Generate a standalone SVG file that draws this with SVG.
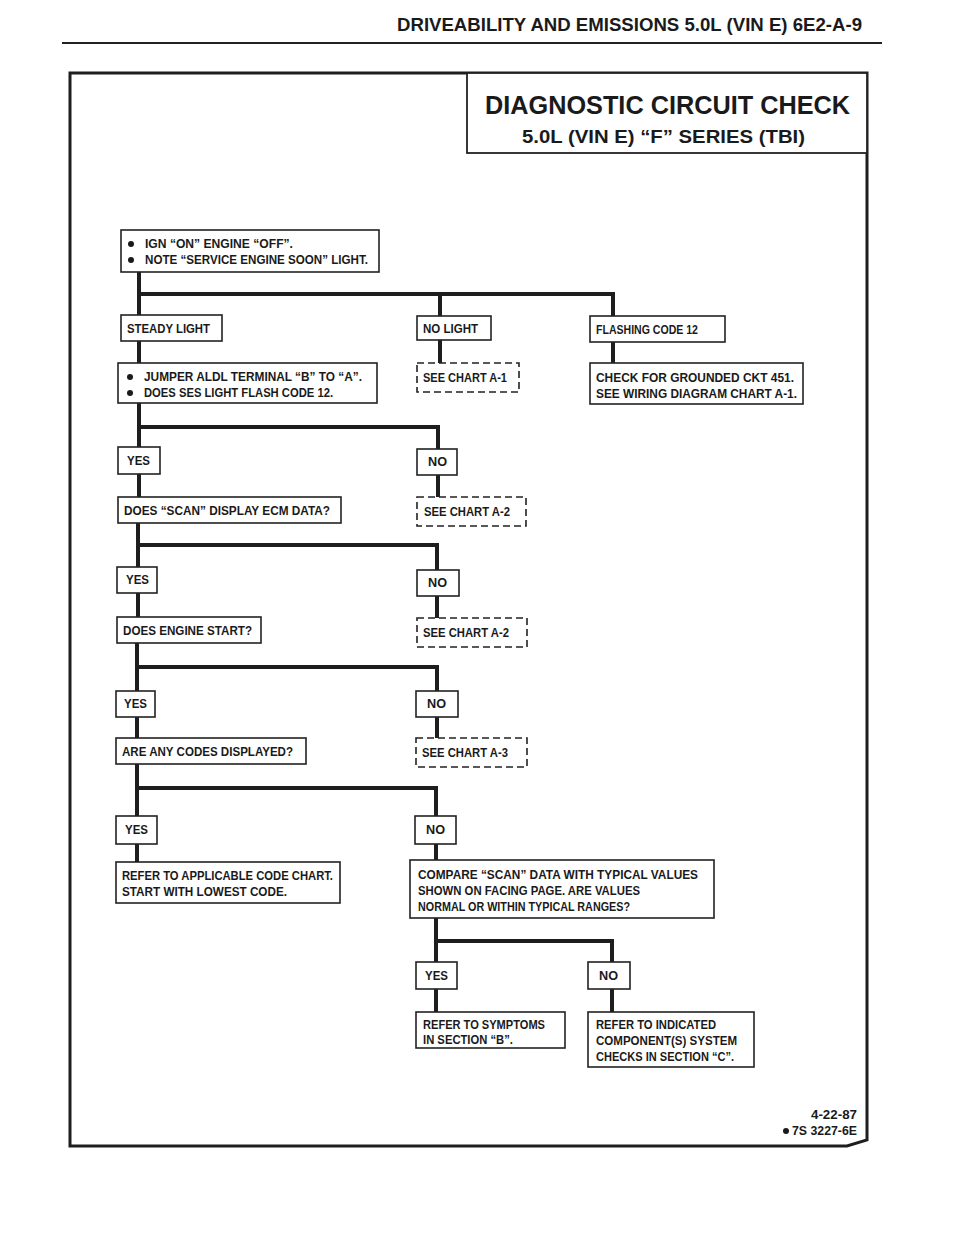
<svg xmlns="http://www.w3.org/2000/svg" width="960" height="1242" viewBox="0 0 960 1242">
<style>
.bx{fill:#fff;stroke:#222;stroke-width:1.6}
.dx{fill:#fff;stroke:#222;stroke-width:1.6;stroke-dasharray:7 4}
.t{font-family:"Liberation Sans",Arial,sans-serif;font-weight:bold;font-size:12.5px;fill:#1a1a1a}
.cn{stroke:#1e1e1e;stroke-width:4;fill:none}
.bul{fill:#1a1a1a}
</style>
<rect width="960" height="1242" fill="#fff"/>
<g id="header">
<text x="397" y="31" class="t" style="font-size:19px" textLength="465" lengthAdjust="spacingAndGlyphs">DRIVEABILITY AND EMISSIONS  5.0L  (VIN E)  6E2-A-9</text>
<line x1="62" y1="43" x2="882" y2="43" stroke="#222" stroke-width="2"/>
</g>
<g id="frame">
<path d="M70,73 H867 V1140 L847,1146 H70 Z" fill="none" stroke="#1e1e1e" stroke-width="3"/>
</g>
<g id="title">
<rect x="467" y="73" width="400" height="80" fill="#fff" stroke="#222" stroke-width="1.8"/>
<text x="485" y="114" class="t" style="font-size:26px" textLength="365" lengthAdjust="spacingAndGlyphs">DIAGNOSTIC CIRCUIT CHECK</text>
<text x="522" y="143" class="t" style="font-size:18px" textLength="283" lengthAdjust="spacingAndGlyphs">5.0L (VIN E)  “F” SERIES  (TBI)</text>
</g>
<g id="connectors">
<path class="cn" d="M139,272 V316 M139,341 V363 M139,403 V447 M139,474 V497 M138,523 V567 M138,593 V617 M137,643 V691 M137,717 V738 M137,764 V816 M137,844 V862"/>
<path class="cn" d="M139,294 H613 V316 M440,294 V316 M440,340 V363 M613,342 V363"/>
<path class="cn" d="M139,427 H438 V449 M438,475 V497"/>
<path class="cn" d="M138,545 H437 V570 M437,596 V618"/>
<path class="cn" d="M137,667 H437 V691 M437,717 V738"/>
<path class="cn" d="M137,788 H436 V816 M436,844 V860 M436,918 V962 M436,941 H612 V962 M436,989 V1012 M612,989 V1012"/>
</g>
<g id="n-ign">
<rect class="bx" x="121" y="230" width="258" height="42"/>
<circle class="bul" cx="131" cy="244" r="3"/><circle class="bul" cx="131" cy="260" r="3"/>
<text class="t" x="145" y="248" textLength="148" lengthAdjust="spacingAndGlyphs">IGN “ON” ENGINE  “OFF”.</text>
<text class="t" x="145" y="264" textLength="223" lengthAdjust="spacingAndGlyphs">NOTE “SERVICE ENGINE SOON” LIGHT.</text>
</g>
<g id="n-steady">
<rect class="bx" x="121" y="315" width="101" height="26"/>
<text class="t" x="127" y="333" textLength="83" lengthAdjust="spacingAndGlyphs">STEADY LIGHT</text>
</g>
<g id="n-nolight">
<rect class="bx" x="417" y="316" width="74" height="24"/>
<text class="t" x="423" y="333" textLength="55" lengthAdjust="spacingAndGlyphs">NO LIGHT</text>
</g>
<g id="n-flash">
<rect class="bx" x="590" y="316" width="135" height="26"/>
<text class="t" x="596" y="334" textLength="102" lengthAdjust="spacingAndGlyphs">FLASHING CODE 12</text>
</g>
<g id="n-a1">
<rect class="dx" x="417" y="363" width="102" height="29"/>
<text class="t" x="423" y="382" textLength="84" lengthAdjust="spacingAndGlyphs">SEE CHART A-1</text>
</g>
<g id="n-check">
<rect class="bx" x="590" y="363" width="213" height="41"/>
<text class="t" x="596" y="382" textLength="198" lengthAdjust="spacingAndGlyphs">CHECK FOR GROUNDED CKT 451.</text>
<text class="t" x="596" y="398" textLength="201" lengthAdjust="spacingAndGlyphs">SEE WIRING DIAGRAM CHART A-1.</text>
</g>
<g id="n-jumper">
<rect class="bx" x="118" y="363" width="259" height="40"/>
<circle class="bul" cx="130" cy="377" r="3"/><circle class="bul" cx="130" cy="393" r="3"/>
<text class="t" x="144" y="381" textLength="218" lengthAdjust="spacingAndGlyphs">JUMPER  ALDL TERMINAL “B” TO “A”.</text>
<text class="t" x="144" y="397" textLength="189" lengthAdjust="spacingAndGlyphs">DOES SES LIGHT FLASH CODE 12.</text>
</g>
<g id="n-yes1">
<rect class="bx" x="118" y="447" width="42" height="27"/>
<text class="t" x="127" y="465" textLength="23" lengthAdjust="spacingAndGlyphs">YES</text>
</g>
<g id="n-no1">
<rect class="bx" x="417" y="449" width="40" height="26"/>
<text class="t" x="428" y="466" textLength="19" lengthAdjust="spacingAndGlyphs">NO</text>
</g>
<g id="n-scan">
<rect class="bx" x="118" y="497" width="223" height="26"/>
<text class="t" x="124" y="515" textLength="206" lengthAdjust="spacingAndGlyphs">DOES “SCAN” DISPLAY ECM DATA?</text>
</g>
<g id="n-a2a">
<rect class="dx" x="417" y="497" width="109" height="29"/>
<text class="t" x="424" y="516" textLength="86" lengthAdjust="spacingAndGlyphs">SEE CHART A-2</text>
</g>
<g id="n-yes2">
<rect class="bx" x="117" y="567" width="40" height="26"/>
<text class="t" x="126" y="584" textLength="23" lengthAdjust="spacingAndGlyphs">YES</text>
</g>
<g id="n-no2">
<rect class="bx" x="417" y="570" width="42" height="26"/>
<text class="t" x="428" y="587" textLength="19" lengthAdjust="spacingAndGlyphs">NO</text>
</g>
<g id="n-start">
<rect class="bx" x="117" y="617" width="144" height="26"/>
<text class="t" x="123" y="635" textLength="129" lengthAdjust="spacingAndGlyphs">DOES ENGINE START?</text>
</g>
<g id="n-a2b">
<rect class="dx" x="417" y="618" width="110" height="29"/>
<text class="t" x="423" y="637" textLength="86" lengthAdjust="spacingAndGlyphs">SEE CHART A-2</text>
</g>
<g id="n-yes3">
<rect class="bx" x="116" y="691" width="39" height="26"/>
<text class="t" x="124" y="708" textLength="23" lengthAdjust="spacingAndGlyphs">YES</text>
</g>
<g id="n-no3">
<rect class="bx" x="416" y="691" width="42" height="26"/>
<text class="t" x="427" y="708" textLength="19" lengthAdjust="spacingAndGlyphs">NO</text>
</g>
<g id="n-codes">
<rect class="bx" x="116" y="738" width="190" height="26"/>
<text class="t" x="122" y="756" textLength="171" lengthAdjust="spacingAndGlyphs">ARE ANY CODES DISPLAYED?</text>
</g>
<g id="n-a3">
<rect class="dx" x="416" y="738" width="111" height="29"/>
<text class="t" x="422" y="757" textLength="86" lengthAdjust="spacingAndGlyphs">SEE CHART A-3</text>
</g>
<g id="n-yes4">
<rect class="bx" x="116" y="816" width="41" height="28"/>
<text class="t" x="125" y="834" textLength="23" lengthAdjust="spacingAndGlyphs">YES</text>
</g>
<g id="n-no4">
<rect class="bx" x="415" y="816" width="41" height="28"/>
<text class="t" x="426" y="834" textLength="19" lengthAdjust="spacingAndGlyphs">NO</text>
</g>
<g id="n-refercode">
<rect class="bx" x="116" y="862" width="224" height="41"/>
<text class="t" x="122" y="880" textLength="211" lengthAdjust="spacingAndGlyphs">REFER TO APPLICABLE CODE CHART.</text>
<text class="t" x="122" y="896" textLength="165" lengthAdjust="spacingAndGlyphs">START WITH LOWEST CODE.</text>
</g>
<g id="n-compare">
<rect class="bx" x="410" y="860" width="304" height="58"/>
<text class="t" x="418" y="879" textLength="280" lengthAdjust="spacingAndGlyphs">COMPARE “SCAN” DATA WITH TYPICAL VALUES</text>
<text class="t" x="418" y="895" textLength="222" lengthAdjust="spacingAndGlyphs">SHOWN ON FACING PAGE.  ARE VALUES</text>
<text class="t" x="418" y="911" textLength="212" lengthAdjust="spacingAndGlyphs">NORMAL OR WITHIN TYPICAL RANGES?</text>
</g>
<g id="n-yes5">
<rect class="bx" x="416" y="962" width="41" height="27"/>
<text class="t" x="425" y="980" textLength="23" lengthAdjust="spacingAndGlyphs">YES</text>
</g>
<g id="n-no5">
<rect class="bx" x="588" y="962" width="42" height="27"/>
<text class="t" x="599" y="980" textLength="19" lengthAdjust="spacingAndGlyphs">NO</text>
</g>
<g id="n-symptoms">
<rect class="bx" x="416" y="1012" width="149" height="36"/>
<text class="t" x="423" y="1029" textLength="122" lengthAdjust="spacingAndGlyphs">REFER TO SYMPTOMS</text>
<text class="t" x="423" y="1044" textLength="90" lengthAdjust="spacingAndGlyphs">IN SECTION “B”.</text>
</g>
<g id="n-indicated">
<rect class="bx" x="588" y="1012" width="166" height="55"/>
<text class="t" x="596" y="1029" textLength="120" lengthAdjust="spacingAndGlyphs">REFER TO INDICATED</text>
<text class="t" x="596" y="1045" textLength="141" lengthAdjust="spacingAndGlyphs">COMPONENT(S) SYSTEM</text>
<text class="t" x="596" y="1061" textLength="138" lengthAdjust="spacingAndGlyphs">CHECKS IN SECTION “C”.</text>
</g>
<g id="footer">
<text class="t" x="811" y="1119" style="font-size:13px" textLength="46" lengthAdjust="spacingAndGlyphs">4-22-87</text>
<circle class="bul" cx="786" cy="1131" r="3"/>
<text class="t" x="792" y="1135" style="font-size:13px" textLength="65" lengthAdjust="spacingAndGlyphs">7S 3227-6E</text>
</g>
</svg>
